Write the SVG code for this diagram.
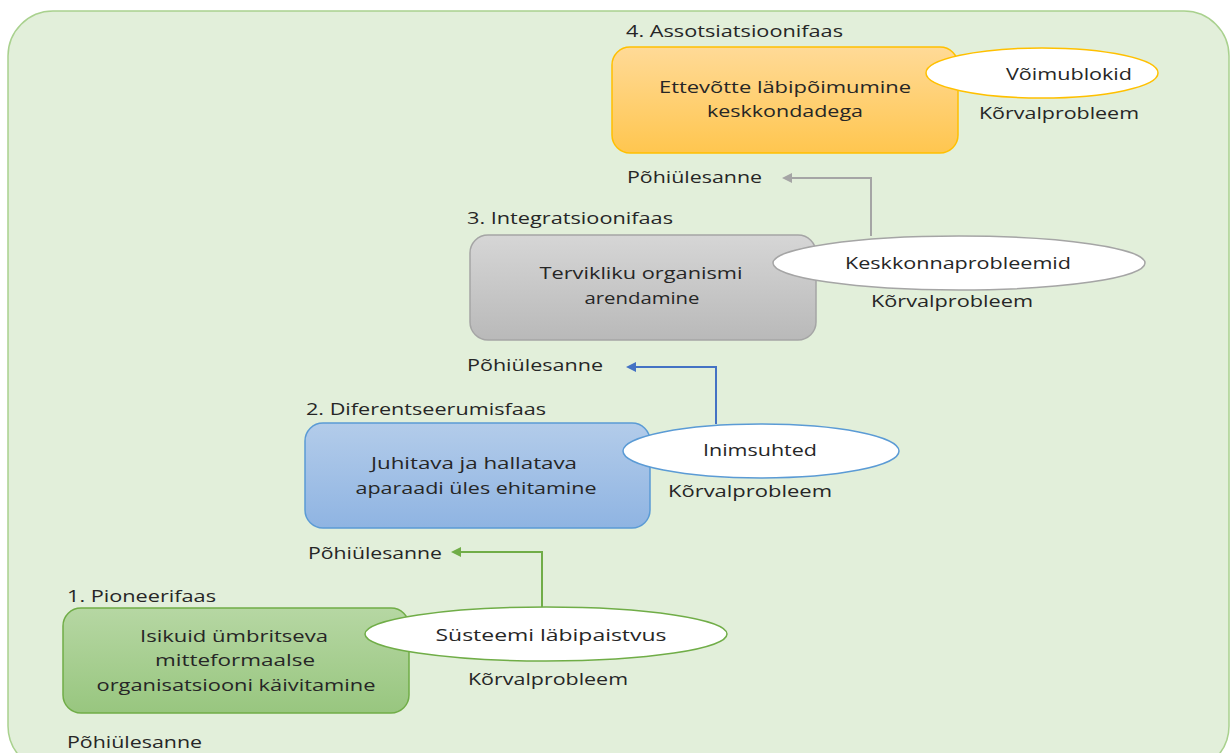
<svg xmlns="http://www.w3.org/2000/svg" width="1231" height="753" viewBox="0 0 1231 753">
<defs>
<style>
text{font-family:"Open Sans","Liberation Sans",sans-serif;font-size:16px;fill:#262626;}
.c{text-anchor:middle;}
.conn{fill:none;stroke-width:2;}
.ell{fill:#ffffff;stroke-width:1.5;}
.box{stroke-width:1.5;}
</style>
<linearGradient id="gO" x1="0" y1="0" x2="0" y2="1"><stop offset="0" stop-color="#FFDA97"/><stop offset="1" stop-color="#FFC64F"/></linearGradient>
<linearGradient id="gG" x1="0" y1="0" x2="0" y2="1"><stop offset="0" stop-color="#D6D6D6"/><stop offset="1" stop-color="#B9B9B9"/></linearGradient>
<linearGradient id="gB" x1="0" y1="0" x2="0" y2="1"><stop offset="0" stop-color="#B3CCEA"/><stop offset="1" stop-color="#8FB4E2"/></linearGradient>
<linearGradient id="gN" x1="0" y1="0" x2="0" y2="1"><stop offset="0" stop-color="#B6D7A3"/><stop offset="1" stop-color="#98C67F"/></linearGradient>
<marker id="aGray" viewBox="0 0 10 10" refX="0" refY="5" markerWidth="5" markerHeight="5" orient="auto-start-reverse"><path d="M0,0L10,5L0,10z" fill="#A5A5A5"/></marker>
<marker id="aBlue" viewBox="0 0 10 10" refX="0" refY="5" markerWidth="5" markerHeight="5" orient="auto-start-reverse"><path d="M0,0L10,5L0,10z" fill="#4472C4"/></marker>
<marker id="aGreen" viewBox="0 0 10 10" refX="0" refY="5" markerWidth="5" markerHeight="5" orient="auto-start-reverse"><path d="M0,0L10,5L0,10z" fill="#70AD47"/></marker>
</defs>
<g id="background">
<rect x="8" y="11" width="1221" height="760" rx="45" fill="#E2EFDA" stroke="#A9D18E" stroke-width="1.5"/>
</g>
<g id="connectors">
<path class="conn" d="M871,236 V178 H792" stroke="#A5A5A5" marker-end="url(#aGray)"/>
<path class="conn" d="M716,424 V367 H636" stroke="#4472C4" marker-end="url(#aBlue)"/>
<path class="conn" d="M542,608 V552 H461" stroke="#70AD47" marker-end="url(#aGreen)"/>
</g>
<g id="phase4">
<text x="626" y="37" textLength="217" lengthAdjust="spacingAndGlyphs">4. Assotsiatsioonifaas</text>
<rect class="box" x="612" y="47" width="346" height="106" rx="18" fill="url(#gO)" stroke="#FFC000"/>
<text class="c" x="785" y="93" textLength="252" lengthAdjust="spacingAndGlyphs">Ettevõtte läbipõimumine</text>
<text class="c" x="785" y="117" textLength="156" lengthAdjust="spacingAndGlyphs">keskkondadega</text>
<text x="627" y="183" textLength="135" lengthAdjust="spacingAndGlyphs">Põhiülesanne</text>
</g>
<g id="side4">
<ellipse class="ell" cx="1042" cy="73" rx="116" ry="25" stroke="#FFC000"/>
<text class="c" x="1069" y="80" textLength="126" lengthAdjust="spacingAndGlyphs">Võimublokid</text>
<text x="979" y="119" textLength="160" lengthAdjust="spacingAndGlyphs">Kõrvalprobleem</text>
</g>
<g id="phase3">
<text x="467" y="224" textLength="206" lengthAdjust="spacingAndGlyphs">3. Integratsioonifaas</text>
<rect class="box" x="470" y="235" width="346" height="105" rx="18" fill="url(#gG)" stroke="#A5A5A5"/>
<text class="c" x="641" y="279" textLength="203" lengthAdjust="spacingAndGlyphs">Tervikliku organismi</text>
<text class="c" x="642" y="304" textLength="115" lengthAdjust="spacingAndGlyphs">arendamine</text>
<text x="467" y="371" textLength="136" lengthAdjust="spacingAndGlyphs">Põhiülesanne</text>
</g>
<g id="side3">
<ellipse class="ell" cx="959" cy="263" rx="186" ry="27" stroke="#A5A5A5"/>
<text class="c" x="958" y="269" textLength="226" lengthAdjust="spacingAndGlyphs">Keskkonnaprobleemid</text>
<text x="871" y="307" textLength="162" lengthAdjust="spacingAndGlyphs">Kõrvalprobleem</text>
</g>
<g id="phase2">
<text x="306" y="415" textLength="240" lengthAdjust="spacingAndGlyphs">2. Diferentseerumisfaas</text>
<rect class="box" x="305" y="423" width="345" height="105" rx="18" fill="url(#gB)" stroke="#5B9BD5"/>
<text class="c" x="474" y="469" textLength="206" lengthAdjust="spacingAndGlyphs">Juhitava ja hallatava</text>
<text class="c" x="476" y="494" textLength="241" lengthAdjust="spacingAndGlyphs">aparaadi üles ehitamine</text>
<text x="308" y="559" textLength="134" lengthAdjust="spacingAndGlyphs">Põhiülesanne</text>
</g>
<g id="side2">
<ellipse class="ell" cx="761" cy="451" rx="138" ry="27" stroke="#5B9BD5"/>
<text class="c" x="760" y="456" textLength="114" lengthAdjust="spacingAndGlyphs">Inimsuhted</text>
<text x="668" y="497" textLength="164" lengthAdjust="spacingAndGlyphs">Kõrvalprobleem</text>
</g>
<g id="phase1">
<text x="67" y="602" textLength="149" lengthAdjust="spacingAndGlyphs">1. Pioneerifaas</text>
<rect class="box" x="63" y="608" width="346" height="105" rx="18" fill="url(#gN)" stroke="#70AD47"/>
<text class="c" x="234" y="642" textLength="188" lengthAdjust="spacingAndGlyphs">Isikuid ümbritseva</text>
<text class="c" x="235" y="666" textLength="160" lengthAdjust="spacingAndGlyphs">mitteformaalse</text>
<text class="c" x="236" y="691" textLength="279" lengthAdjust="spacingAndGlyphs">organisatsiooni käivitamine</text>
<text x="67" y="748" textLength="135" lengthAdjust="spacingAndGlyphs">Põhiülesanne</text>
</g>
<g id="side1">
<ellipse class="ell" cx="546" cy="634" rx="181" ry="27" stroke="#70AD47"/>
<text class="c" x="551" y="641" textLength="231" lengthAdjust="spacingAndGlyphs">Süsteemi läbipaistvus</text>
<text x="468" y="685" textLength="160" lengthAdjust="spacingAndGlyphs">Kõrvalprobleem</text>
</g>
</svg>
